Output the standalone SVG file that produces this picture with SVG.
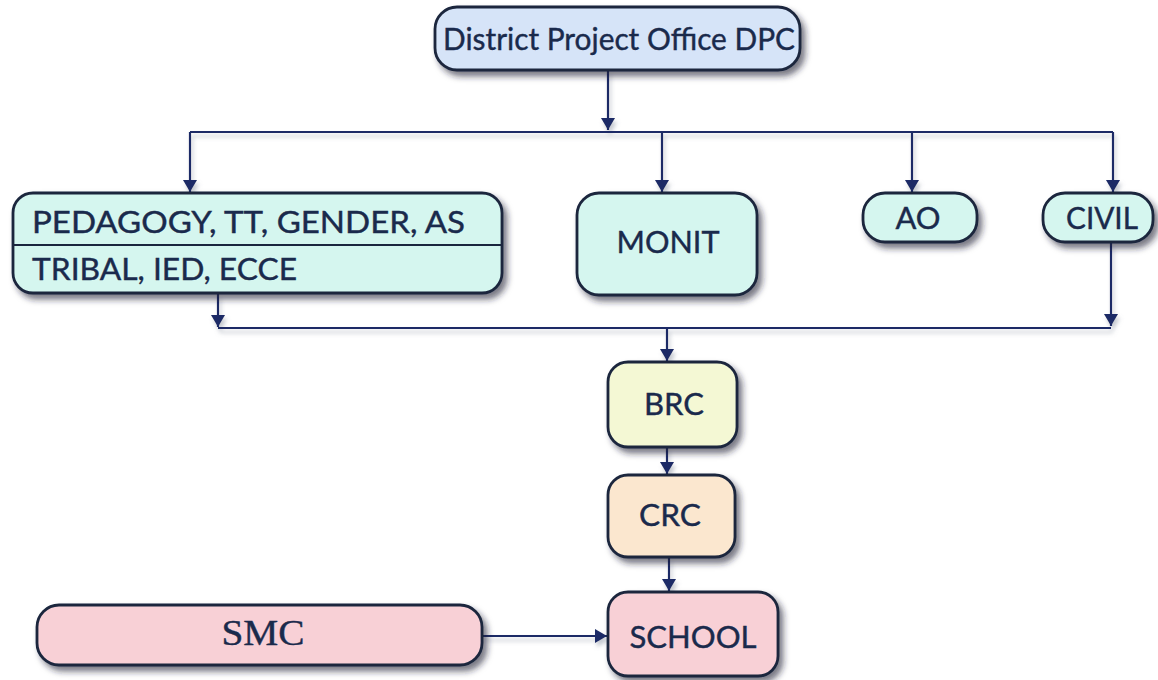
<svg xmlns="http://www.w3.org/2000/svg" width="1158" height="680" viewBox="0 0 1158 680">
<style>
.box{stroke:#1a263e;stroke-width:2.8}
.t{font-family:"Lato","Open Sans",sans-serif;fill:#1a2a4c;font-size:30px;stroke:#1a2a4c;stroke-width:0.4}
.ts{font-family:"Liberation Serif",serif;fill:#1a2a4c;font-size:35px;stroke:#1a2a4c;stroke-width:0.4}
.c{fill:none;stroke:#1b2a66;stroke-width:2.2}
</style>
<defs>
<filter id="sh" x="-10%" y="-20%" width="125%" height="150%">
<feDropShadow dx="4" dy="5" stdDeviation="3" flood-color="#1a2233" flood-opacity="0.6"/>
</filter>
<filter id="lsh" x="-5%" y="-50%" width="110%" height="300%">
<feDropShadow dx="2" dy="4" stdDeviation="2" flood-color="#8890a0" flood-opacity="0.5"/>
</filter>
<marker id="ah" markerUnits="userSpaceOnUse" markerWidth="16" markerHeight="16" refX="12" refY="7" orient="auto">
<path d="M0,0 L12,7 L0,14 Z" fill="#1b2a66"/>
</marker>
</defs>
<rect width="1158" height="680" fill="#ffffff"/>
<g id="connectors" filter="url(#lsh)">
<path class="c" d="M608,70 V130" marker-end="url(#ah)"/>
<path class="c" d="M190,132 H1113"/>
<path class="c" d="M190,132 V192" marker-end="url(#ah)"/>
<path class="c" d="M662,132 V192" marker-end="url(#ah)"/>
<path class="c" d="M912,132 V192" marker-end="url(#ah)"/>
<path class="c" d="M1113,132 V192" marker-end="url(#ah)"/>
<path class="c" d="M218,294 V327" marker-end="url(#ah)"/>
<path class="c" d="M1111,243 V326" marker-end="url(#ah)"/>
<path class="c" d="M218,328 H1111"/>
<path class="c" d="M667,328 V361" marker-end="url(#ah)"/>
<path class="c" d="M667,447 V474" marker-end="url(#ah)"/>
<path class="c" d="M669,557 V591" marker-end="url(#ah)"/>
<path class="c" d="M482,636 H607" marker-end="url(#ah)"/>
</g>
<g id="dpc">
<rect class="box" x="435" y="7" width="365" height="63" rx="22" fill="#d6e4f8" filter="url(#sh)"/>
<text class="t" x="619" y="50" text-anchor="middle" textLength="352" lengthAdjust="spacingAndGlyphs">District Project Office DPC</text>
</g>
<g id="pedagogy">
<rect class="box" x="13" y="193" width="489" height="100" rx="20" fill="#d5f6ef" filter="url(#sh)"/>
<line x1="13" y1="245" x2="502" y2="245" stroke="#1a263e" stroke-width="2"/>
<text class="t" x="32" y="233" textLength="433" lengthAdjust="spacingAndGlyphs">PEDAGOGY, TT, GENDER, AS</text>
<text class="t" x="32" y="280" textLength="265" lengthAdjust="spacingAndGlyphs">TRIBAL, IED, ECCE</text>
</g>
<g id="monit">
<rect class="box" x="577" y="193" width="180" height="102" rx="22" fill="#d5f6ef" filter="url(#sh)"/>
<text class="t" x="668" y="253" text-anchor="middle" textLength="103" lengthAdjust="spacingAndGlyphs">MONIT</text>
</g>
<g id="ao">
<rect class="box" x="863" y="193" width="114" height="49" rx="22" fill="#d5f6ef" filter="url(#sh)"/>
<text class="t" x="918" y="229" text-anchor="middle" textLength="45" lengthAdjust="spacingAndGlyphs">AO</text>
</g>
<g id="civil">
<rect class="box" x="1043" y="193" width="110" height="49" rx="22" fill="#d5f6ef" filter="url(#sh)"/>
<text class="t" x="1102" y="229" text-anchor="middle" textLength="72" lengthAdjust="spacingAndGlyphs">CIVIL</text>
</g>
<g id="brc">
<rect class="box" x="608" y="362" width="129" height="85" rx="20" fill="#f4f8d4" filter="url(#sh)"/>
<text class="t" x="674" y="415" text-anchor="middle" textLength="60" lengthAdjust="spacingAndGlyphs">BRC</text>
</g>
<g id="crc">
<rect class="box" x="608" y="475" width="127" height="82" rx="20" fill="#fbe7cf" filter="url(#sh)"/>
<text class="t" x="670" y="526" text-anchor="middle" textLength="62" lengthAdjust="spacingAndGlyphs">CRC</text>
</g>
<g id="school">
<rect class="box" x="608" y="592" width="170" height="84" rx="20" fill="#f8d0d6" filter="url(#sh)"/>
<text class="t" x="693" y="648" text-anchor="middle" textLength="127" lengthAdjust="spacingAndGlyphs">SCHOOL</text>
</g>
<g id="smc">
<rect class="box" x="37" y="605" width="445" height="60" rx="22" fill="#f8d0d6" filter="url(#sh)"/>
<text class="ts" x="263" y="645" text-anchor="middle" textLength="83" lengthAdjust="spacingAndGlyphs">SMC</text>
</g>
</svg>
